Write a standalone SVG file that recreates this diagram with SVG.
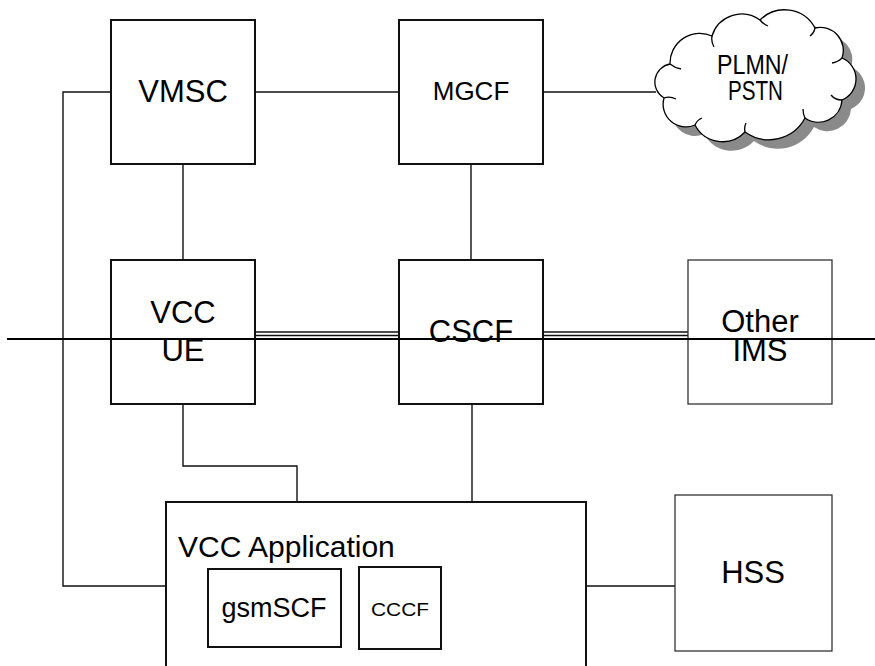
<svg xmlns="http://www.w3.org/2000/svg" width="875" height="666" viewBox="0 0 875 666">
  <style>
    .box { fill: #fff; stroke: #111; stroke-width: 2; }
    .thin { fill: #fff; stroke: #222; stroke-width: 1.2; }
    .conn { fill: none; stroke: #111; stroke-width: 1.4; }
    .lbl { font-family: "Liberation Sans", Arial, sans-serif; fill: #000; text-anchor: middle; }
    .cloud { stroke: #000; stroke-width: 1.3; }
  </style>
  <defs>
    <path id="cloudShape" d="M664,98 A18.4,18.4 0 0 1 670,64 A29.8,29.8 0 0 1 712,36 A31,31 0 0 1 760,20 A34.6,34.6 0 0 1 815,28 A23,23 0 0 1 842,58 A22.75,22.75 0 0 1 842,100 A23.6,23.6 0 0 1 805,118 A40.9,40.9 0 0 1 745,132 A31,31 0 0 1 695,125 A22.7,22.7 0 0 1 664,98 Z"/>
  </defs>

  <rect width="875" height="666" fill="#fff"/>

  <!-- connectors -->
  <g id="connectors">
    <polyline class="conn" points="111,92 63,92 63,586 166,586"/>
    <line class="conn" x1="255" y1="92" x2="399" y2="92"/>
    <line class="conn" x1="543" y1="92" x2="656" y2="92"/>
    <line class="conn" x1="183" y1="164" x2="183" y2="260"/>
    <line class="conn" x1="471" y1="164" x2="471" y2="260"/>
    <line class="conn" x1="255" y1="332" x2="399" y2="332"/>
    <line class="conn" x1="255" y1="335.5" x2="399" y2="335.5"/>
    <line class="conn" x1="543" y1="332" x2="688" y2="332"/>
    <line class="conn" x1="543" y1="335.5" x2="688" y2="335.5"/>
    <polyline class="conn" points="183,404 183,466 297,466 297,502"/>
    <line class="conn" x1="472" y1="404" x2="472" y2="502"/>
    <line class="conn" x1="586" y1="586" x2="675" y2="586"/>
  </g>

  <g id="plmn-pstn">
    <use href="#cloudShape" transform="translate(9,9)" fill="#8a8a8a"/>
    <use href="#cloudShape" class="cloud" fill="#fff"/>
    <!-- inner curls where the cloud lobes meet -->
    <path class="cloud" fill="none" d="M670,64 q5,4 11,5 M712,36 q-1,6 2,11 M760,20 q3,4 8,6 M815,28 q-1,5 -5,8 M842,58 q-4,4 -10,5 M842,100 q-7,0 -11,-5 M805,118 q-2,-4 -2,-9 M745,132 q-1,-5 1,-9 M695,125 q2,-5 7,-7 M664,98 q6,-2 12,1"/>
    <text class="lbl" x="752.5" y="74" font-size="28" textLength="71" lengthAdjust="spacingAndGlyphs">PLMN/</text>
    <text class="lbl" x="755.5" y="100" font-size="28" textLength="55" lengthAdjust="spacingAndGlyphs">PSTN</text>
  </g>

  <g id="vmsc">
    <rect class="box" x="111" y="20" width="144" height="144"/>
    <text class="lbl" x="183" y="102" font-size="31">VMSC</text>
  </g>

  <g id="mgcf">
    <rect class="box" x="399" y="20" width="144" height="144"/>
    <text class="lbl" x="471" y="100" font-size="26">MGCF</text>
  </g>

  <g id="vcc-ue">
    <rect class="box" x="111" y="260" width="144" height="144"/>
    <text class="lbl" x="183" y="323" font-size="31">VCC</text>
    <text class="lbl" x="183" y="361" font-size="31">UE</text>
  </g>

  <g id="cscf">
    <rect class="box" x="399" y="260" width="144" height="144"/>
    <text class="lbl" x="471" y="342" font-size="31">CSCF</text>
  </g>

  <g id="other-ims">
    <rect class="thin" x="688" y="260" width="144" height="144"/>
    <text class="lbl" x="760" y="332" font-size="31">Other</text>
    <text class="lbl" x="760" y="361" font-size="31">IMS</text>
  </g>

  <!-- long horizontal divider across the diagram -->
  <g id="divider">
    <line x1="7" y1="339" x2="875" y2="339" stroke="#000" stroke-width="2"/>
  </g>

  <g id="vcc-application">
    <rect class="box" x="166" y="502" width="420" height="175"/>
    <text class="lbl" x="178" y="557" font-size="30" style="text-anchor:start">VCC Application</text>
  </g>

  <g id="gsmscf">
    <rect class="box" x="208" y="569" width="133" height="78"/>
    <text class="lbl" x="274" y="617" font-size="27">gsmSCF</text>
  </g>

  <g id="cccf">
    <rect class="box" x="359" y="567" width="82" height="82"/>
    <text class="lbl" x="400" y="616" font-size="19" textLength="58" lengthAdjust="spacingAndGlyphs">CCCF</text>
  </g>

  <g id="hss">
    <rect class="thin" x="675" y="495" width="157" height="156"/>
    <text class="lbl" x="753" y="583" font-size="31">HSS</text>
  </g>
</svg>
